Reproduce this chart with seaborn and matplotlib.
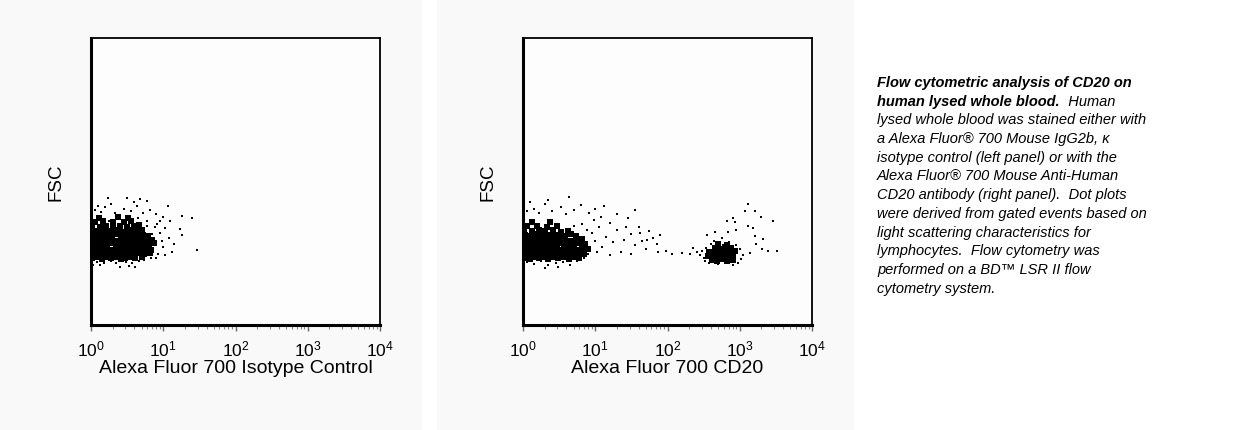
import numpy as np
import matplotlib
matplotlib.use("Agg")
import matplotlib.pyplot as plt
from matplotlib.patches import Rectangle
from matplotlib.ticker import LogLocator, NullFormatter
import seaborn as sns

# ---- data: x in decades (log10 of intensity), y = FSC (0-1024) ----
# left panel, isotype control: dense core events
iso_core_x = [0.02, 0.08, 0.15, 0.21, 0.28, 0.34, 0.41, 0.47, 0.55, 0.61, 0.70,
              0.03, 0.09, 0.15, 0.22, 0.28, 0.35, 0.41, 0.48, 0.54, 0.60, 0.67, 0.74, 0.81,
              0.02, 0.09, 0.15, 0.22, 0.28, 0.35, 0.42, 0.48, 0.55, 0.61, 0.68, 0.75, 0.83,
              0.02, 0.08, 0.15, 0.21, 0.28, 0.34, 0.41, 0.47, 0.54, 0.60, 0.67, 0.73, 0.80, 0.87,
              0.03, 0.09, 0.16, 0.22, 0.29, 0.35, 0.42, 0.49, 0.55, 0.62, 0.69, 0.76, 0.84,
              0.02, 0.08, 0.15, 0.22, 0.29, 0.37, 0.44, 0.51, 0.58, 0.65, 0.72, 0.79,
              0.03, 0.11, 0.19, 0.26, 0.34, 0.42, 0.50, 0.57, 0.64, 0.71,
              0.02, 0.12, 0.21, 0.31, 0.40, 0.50, 0.59, 0.67,
              0.05, 0.17, 0.30, 0.45, 0.56,
              0.11, 0.37, 0.51]
iso_core_y = [238, 242, 236, 241, 239, 244, 237, 240, 243, 238, 241,
              255, 258, 253, 257, 254, 259, 255, 252, 258, 255, 257, 253, 256,
              271, 274, 270, 273, 268, 272, 275, 270, 273, 269, 274, 271, 268,
              287, 290, 286, 289, 291, 285, 288, 292, 287, 289, 285, 290, 287, 291,
              305, 302, 306, 303, 307, 301, 304, 306, 302, 305, 300, 306, 303,
              319, 322, 318, 321, 317, 323, 319, 316, 322, 318, 321, 317,
              337, 334, 339, 335, 338, 333, 337, 340, 335, 338,
              353, 350, 355, 351, 354, 349, 353, 356,
              367, 370, 366, 369, 371,
              383, 386, 381]
# left panel: scattered events
iso_dot_x = [1.26, 1.40, 1.23, 1.26, 1.47, 1.07, 1.12, 0.24, 0.50, 0.68, 0.78, 0.03, 0.40, 0.61,
             0.06, 0.14, 0.20, 0.33, 0.45, 0.56, 0.64, 0.72, 0.82, 0.90, 0.28, 0.60, 0.10,
             0.92, 0.95, 0.98, 1.00, 0.93, 1.03, 0.96, 1.08, 1.15, 0.90, 1.02, 1.10, 0.99,
             0.08, 0.18, 0.27, 0.35, 0.48, 0.57, 0.66, 0.74, 0.83, 0.13, 0.52,
             0.85, 0.88, 0.78, 0.77, 0.65, 0.25, 0.38]
iso_dot_y = [389, 382, 342, 321, 268, 425, 260, 453, 453, 450, 442, 214, 207, 207,
             410, 402, 420, 398, 415, 405, 425, 398, 412, 395, 432, 438, 425,
             360, 330, 300, 280, 255, 345, 372, 310, 290, 240, 248, 370, 385,
             226, 222, 228, 220, 225, 222, 229, 232, 238, 215, 212,
             325, 350, 355, 372, 382, 372, 377]

# right panel, CD20: CD20-negative core
neg_core_x = [0.02, 0.09, 0.15, 0.22, 0.29, 0.35, 0.42, 0.49, 0.56, 0.63, 0.70, 0.77,
              0.03, 0.09, 0.16, 0.22, 0.29, 0.36, 0.42, 0.49, 0.55, 0.62, 0.69, 0.76, 0.84,
              0.02, 0.08, 0.15, 0.21, 0.28, 0.34, 0.41, 0.47, 0.54, 0.61, 0.68, 0.75, 0.82, 0.90,
              0.03, 0.09, 0.16, 0.23, 0.29, 0.36, 0.43, 0.50, 0.57, 0.63, 0.70, 0.78, 0.86,
              0.02, 0.08, 0.15, 0.22, 0.30, 0.37, 0.44, 0.51, 0.58, 0.65, 0.73, 0.81,
              0.03, 0.11, 0.18, 0.26, 0.34, 0.42, 0.50, 0.58, 0.66, 0.74,
              0.02, 0.12, 0.22, 0.31, 0.41, 0.52, 0.62,
              0.06, 0.19, 0.33, 0.47,
              0.12, 0.38]
neg_core_y = [240, 237, 242, 238, 241, 236, 243, 239, 241, 237, 242, 239,
              254, 257, 253, 258, 255, 252, 257, 254, 259, 255, 252, 257, 254,
              273, 270, 274, 269, 272, 275, 270, 273, 269, 274, 271, 268, 273, 270,
              289, 286, 290, 287, 291, 285, 289, 292, 286, 290, 287, 291, 288,
              303, 306, 302, 305, 300, 304, 307, 302, 305, 301, 304, 306,
              321, 318, 323, 319, 322, 317, 321, 319, 323, 318,
              337, 334, 339, 335, 338, 333, 337,
              352, 355, 350, 354,
              369, 366]
# right panel: scattered negative events and the gap between populations
neg_dot_x = [0.05, 0.15, 0.22, 0.30, 0.40, 0.52, 0.60, 0.70, 0.80, 0.35, 0.10, 0.92, 1.00, 1.12, 0.64,
             0.95, 1.00, 1.05, 1.10, 1.15, 1.20, 1.25, 1.30, 1.35, 1.40, 1.45, 1.50, 1.55, 1.60,
             1.65, 1.70, 1.75, 1.80, 1.85, 1.90, 1.20, 1.30, 1.55, 1.42, 1.02, 0.98, 1.08, 1.62,
             1.50, 1.72,
             0.05, 0.15, 0.25, 0.35, 0.45, 0.55, 0.65, 0.75, 0.85, 0.30, 0.48,
             1.87, 2.06, 2.20, 2.31, 1.98,
             0.88, 0.82, 0.70, 0.90]
neg_dot_y = [405, 415, 398, 430, 408, 420, 395, 412, 428, 445, 440, 400, 415, 425, 455,
             330, 300, 350, 280, 315, 365, 295, 340, 260, 305, 380, 325, 285, 350,
             300, 270, 335, 310, 290, 320, 250, 395, 410, 350, 260, 375, 385, 330,
             255, 305,
             225, 218, 228, 215, 222, 226, 214, 228, 240, 205, 208,
             260, 254, 256, 254, 265,
             340, 360, 352, 255]
# right panel: CD20-positive core
pos_core_x = [2.62, 2.69, 2.76, 2.83, 2.90,
              2.56, 2.63, 2.70, 2.77, 2.84, 2.91,
              2.58, 2.65, 2.72, 2.79, 2.86, 2.94,
              2.66, 2.73, 2.80, 2.88,
              2.70, 2.82]
pos_core_y = [232, 229, 234, 230, 233,
              246, 243, 248, 244, 247, 242,
              259, 262, 257, 261, 258, 263,
              275, 272, 277, 273,
              288, 285]
# right panel: scattered positive events
pos_dot_x = [2.45, 2.50, 2.48, 2.53, 2.52, 2.60, 2.65, 2.75, 2.85, 2.95, 3.00, 3.05, 3.02, 2.98,
             2.90, 2.70, 2.58, 3.11, 3.07, 3.21, 3.46, 2.82, 2.93, 3.11, 2.66, 2.84, 3.21, 3.32,
             3.14, 3.31, 3.39, 3.52, 2.41, 2.35, 2.55, 3.18, 2.95, 3.22, 3.30, 2.90]
pos_dot_y = [250, 240, 265, 275, 230, 290, 300, 310, 295, 285, 270, 250, 235, 222,
             215, 218, 222, 432, 407, 407, 371, 371, 368, 353, 332, 332, 318, 307,
             257, 271, 264, 265, 260, 275, 320, 345, 340, 290, 385, 380]

panel_xlabels = ["Alexa Fluor 700 Isotype Control", "Alexa Fluor 700 CD20"]
caption_bold = ["Flow cytometric analysis of CD20 on", "human lysed whole blood."]
caption_lines = ["  Human",
                 "lysed whole blood was stained either with",
                 "a Alexa Fluor\u00ae 700 Mouse IgG2b, \u03ba",
                 "isotype control (left panel) or with the",
                 "Alexa Fluor\u00ae 700 Mouse Anti-Human",
                 "CD20 antibody (right panel).  Dot plots",
                 "were derived from gated events based on",
                 "light scattering characteristics for",
                 "lymphocytes.  Flow cytometry was",
                 "performed on a BD\u2122 LSR II flow",
                 "cytometry system."]

sns.set_theme(style="white")
plt.rcParams['font.family'] = ['Liberation Sans', 'DejaVu Sans']
plt.rcParams['mathtext.fontset'] = 'custom'
plt.rcParams['mathtext.rm'] = 'Liberation Sans'
plt.rcParams['mathtext.it'] = 'Liberation Sans:italic'
plt.rcParams['text.color'] = 'black'
plt.rcParams['axes.labelcolor'] = 'black'
plt.rcParams['xtick.labelcolor'] = 'black'

W, H = 1241, 431
fig = plt.figure(figsize=(W / 100, H / 100), dpi=100, facecolor='white')

# light grey panel backgrounds, behind the axes
for x0, x1 in [(0, 422), (437, 854)]:
    fig.patches.append(Rectangle((x0 / W, 0), (x1 - x0) / W, 1, transform=fig.transFigure,
                                 facecolor='#f9f9f9', edgecolor='none', zorder=-5))

core_size = 16
dot_size = 2.2
panels = [
    [(iso_core_x, iso_core_y, core_size), (iso_dot_x, iso_dot_y, dot_size)],
    [(neg_core_x, neg_core_y, core_size), (neg_dot_x, neg_dot_y, dot_size),
     (pos_core_x, pos_core_y, core_size), (pos_dot_x, pos_dot_y, dot_size)],
]

for i, (groups, xlab) in enumerate(zip(panels, panel_xlabels)):
    left_px = 91 + i * 432
    ax = fig.add_axes([left_px / W, (H - 326) / H, 289 / W, 287 / H])
    ax.set_facecolor('#fdfdfd')
    ax.set_zorder(2)
    for gx, gy, size in groups:
        sns.scatterplot(x=10 ** np.array(gx), y=np.array(gy), marker='s', s=size,
                        color='black', linewidth=0, ax=ax, legend=False)
    ax.set_xscale('log')
    ax.set_xlim(1, 1e4)
    ax.set_ylim(0, 1024)
    ax.xaxis.set_major_locator(LogLocator(base=10, numticks=10))
    ax.xaxis.set_minor_locator(LogLocator(base=10, subs=np.arange(2, 10), numticks=10))
    ax.xaxis.set_minor_formatter(NullFormatter())
    ax.tick_params(axis='x', which='major', direction='out', length=4, width=1,
                   color='#666666', labelsize=12.5, pad=6, bottom=True)
    ax.tick_params(axis='x', which='minor', direction='out', length=3, width=0.8,
                   color='#888888', bottom=True)
    ax.set_yticks([])
    for side, lw in [('left', 2.2), ('bottom', 2.2), ('top', 1.3), ('right', 1.3)]:
        ax.spines[side].set_visible(True)
        ax.spines[side].set_color('black')
        ax.spines[side].set_linewidth(lw)
    ax.set_xlabel(xlab, fontsize=14, labelpad=0)
    ax.set_ylabel("FSC", fontsize=13.5, labelpad=19)

# caption text on the right
tx = 877 / W
ty = 1 - 76 / H
step = 18.7 / H
fs = 10.5
fig.text(tx, ty, caption_bold[0], fontsize=fs, fontweight='bold', style='italic', va='top')
b2 = fig.text(tx, ty - step, caption_bold[1], fontsize=fs, fontweight='bold', style='italic', va='top')
fig.canvas.draw()
bb = b2.get_window_extent()
fig.text(bb.x1 / W, ty - step, caption_lines[0], fontsize=fs, style='italic', va='top')
for k, line in enumerate(caption_lines[1:]):
    fig.text(tx, ty - (k + 2) * step, line, fontsize=fs, style='italic', va='top')

fig.savefig("out.png", dpi=100, facecolor='white')
